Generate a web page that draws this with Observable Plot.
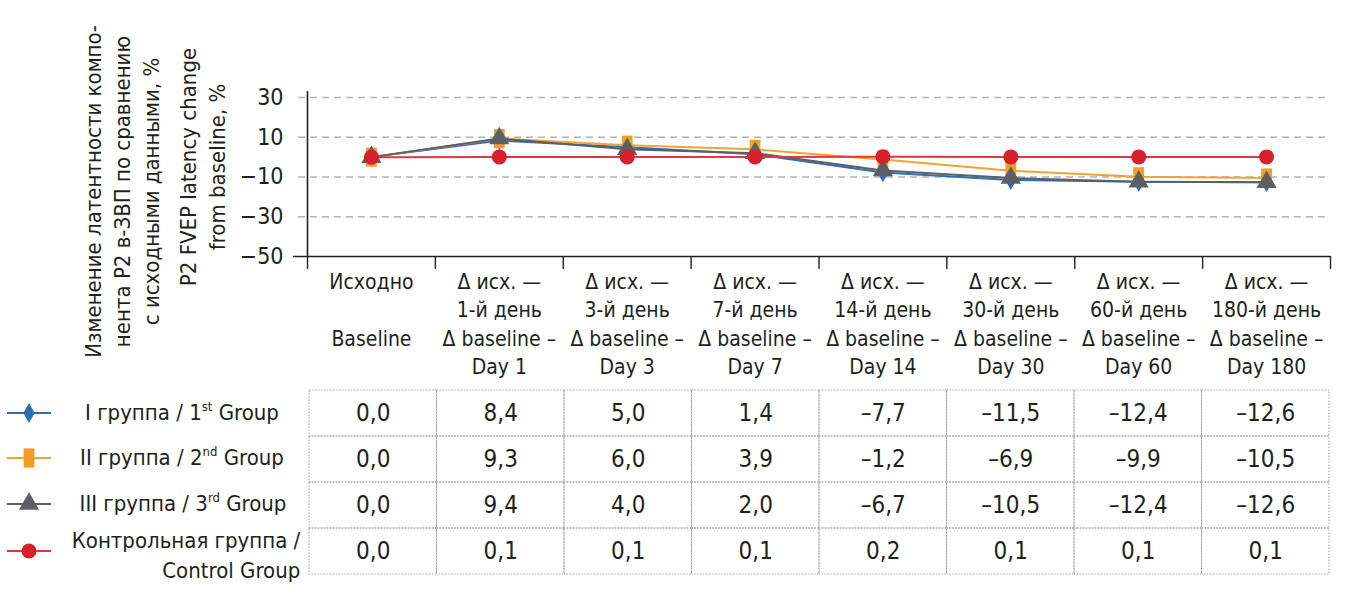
<!DOCTYPE html>
<html><head><meta charset="utf-8">
<script src="https://cdn.jsdelivr.net/npm/d3@7"></script>
<script src="https://cdn.jsdelivr.net/npm/@observablehq/plot@0.6"></script>
<style>
body{margin:0;background:#fff;}
#wrap{position:relative;width:1364px;height:600px;font-family:"Liberation Sans Narrow","DejaVu Sans Condensed","Roboto",sans-serif;color:#231f20;overflow:hidden}
#wrap svg{position:absolute;left:0}
.ytitle{position:absolute;width:420px;text-align:center;white-space:pre;font-size:22px;line-height:29px;transform:rotate(-90deg);color:#231f20}
.leg{position:absolute;font-size:22px;white-space:nowrap;color:#231f20}
.leg sup{font-size:13px;vertical-align:9px;line-height:0}
.sw{position:absolute}
</style></head><body><div id="wrap"></div>
<script>
const FONT = '"Liberation Sans Narrow","DejaVu Sans Condensed","Roboto",sans-serif';
const categories = [
  "Исходно\n\nBaseline",
  "Δ исх. —\n1-й день\nΔ baseline –\nDay 1",
  "Δ исх. —\n3-й день\nΔ baseline –\nDay 3",
  "Δ исх. —\n7-й день\nΔ baseline –\nDay 7",
  "Δ исх. —\n14-й день\nΔ baseline –\nDay 14",
  "Δ исх. —\n30-й день\nΔ baseline –\nDay 30",
  "Δ исх. —\n60-й день\nΔ baseline –\nDay 60",
  "Δ исх. —\n180-й день\nΔ baseline –\nDay 180"
];
const groupNames = ["I группа / 1st Group", "II группа / 2nd Group", "III группа / 3rd Group", "Контрольная группа / Control Group"];
const group1 = [0.0, 8.4, 5.0, 1.4, -7.7, -11.5, -12.4, -12.6];
const group2 = [0.0, 9.3, 6.0, 3.9, -1.2, -6.9, -9.9, -10.5];
const group3 = [0.0, 9.4, 4.0, 2.0, -6.7, -10.5, -12.4, -12.6];
const control = [0.0, 0.1, 0.1, 0.1, 0.2, 0.1, 0.1, 0.1];
const yTicks = [30, 10, -10, -30, -50];
const colors = ["#2f6db5", "#f29d26", "#5d5f64", "#d6212d"];
const lineColors = ["#2f6db5", "#f2a230", "#5d5f64", "#e8343d"];

const seriesValues = [group1, group2, group3, control];
const long = seriesValues.flatMap((vals, s) => vals.map((v, i) => ({s, i, v})));

const tallRect = {draw(ctx, size){ const r = Math.sqrt(size/Math.PI); const w = r*1.8, h = r*3.2; ctx.moveTo(-w/2,-h/2); ctx.lineTo(w/2,-h/2); ctx.lineTo(w/2,h/2); ctx.lineTo(-w/2,h/2); ctx.closePath(); }};
const symbols = ["diamond", tallRect, "triangle", "circle"];
const radii = [6, 6, 7.5, 7.5];

const W = 1364;
const wrap = document.getElementById("wrap");

const chart = Plot.plot({
  width: W, height: 380,
  marginLeft: 307, marginRight: 34, marginTop: 97, marginBottom: 124,
  x: {domain: [0, 8], axis: null},
  y: {domain: [-50, 30], axis: null},
  style: {fontFamily: FONT, background: "transparent", color: "#231f20", overflow: "visible"},
  marks: [
    Plot.ruleY(yTicks.filter(d => d > -50), {x1: -0.07, x2: 8, stroke: "#b2b2b2", strokeDasharray: "7,5", strokeWidth: 1.3}),
    Plot.ruleX([0], {y1: -50, y2: 33, stroke: "#231f20", strokeWidth: 1.6}),
    Plot.ruleY([-50], {x1: -0.11, x2: 8, stroke: "#231f20", strokeWidth: 1.6}),
    Plot.ruleX(d3.range(9), {y1: -50, y2: -56.5, stroke: "#231f20", strokeWidth: 1.4}),
    Plot.text(yTicks, {x: 0, y: d => d, text: d => String(d).replace("-", "\u2212"), textAnchor: "end", dx: -24, fontSize: 23, fill: "#231f20"}),
    Plot.text(categories, {x: (d, i) => i + 0.5, y: -50, text: d => d, lineAnchor: "top", dy: 12, fontSize: 21, lineHeight: 1.36, fill: "#231f20"}),
    ...seriesValues.map((vals, s) => Plot.line(long.filter(d => d.s === s), {x: d => d.i + 0.5, y: "v", stroke: lineColors[s], strokeWidth: 2})),
    ...seriesValues.map((vals, s) => Plot.dot(long.filter(d => d.s === s), {x: d => d.i + 0.5, y: "v", symbol: () => symbols[s], r: radii[s], fill: colors[s], stroke: "none"}))
  ]
});
chart.style.top = "0px";
wrap.appendChild(chart);

const fmt = v => v.toFixed(1).replace(".", ",").replace("-", "\u2013");
const cells = seriesValues.flatMap((vals, r) => vals.map((v, c) => ({r, c, v})));
const table = Plot.plot({
  width: W, height: 200,
  marginLeft: 309, marginRight: 35, marginTop: 10, marginBottom: 6,
  x: {domain: [0, 8], axis: null},
  y: {domain: [0, 4], reverse: true, axis: null},
  style: {fontFamily: FONT, background: "transparent", overflow: "visible"},
  marks: [
    Plot.rect(cells, {x1: "c", x2: d => d.c + 1, y1: "r", y2: d => d.r + 1, fill: "none", stroke: "#a0a0a0", strokeWidth: 1, strokeDasharray: "1.5,1.5"}),
    Plot.text(cells, {x: d => d.c + 0.5, y: d => d.r + 0.5, text: d => fmt(d.v), fontSize: 24, fill: "#231f20"})
  ]
});
table.style.top = "380px";
wrap.appendChild(table);

// Y-axis titles
function ytitle(text, cx, cy){
  const d = document.createElement("div");
  d.className = "ytitle";
  d.textContent = text;
  const lines = text.split("\n").length;
  const h = lines * 29;
  d.style.left = (cx - 210) + "px";
  d.style.top = (cy - h/2) + "px";
  d.style.height = h + "px";
  wrap.appendChild(d);
}
ytitle("Изменение латентности компо-\nнента Р2 в-ЗВП по сравнению\nс исходными данными, %", 122, 191);
ytitle("P2 FVEP latency change\nfrom baseline, %", 203, 167);

// Legend
const legendRows = [
  {html: "I группа / 1<sup>st</sup> Group", y: 413, cx: 182},
  {html: "II группа / 2<sup>nd</sup> Group", y: 458, cx: 182},
  {html: "III группа / 3<sup>rd</sup> Group", y: 504, cx: 183},
  {html: "Контрольная группа /<br>Control Group", y: 556, cx: 186}
];
const markerY = [413, 458, 504, 551];
legendRows.forEach((row, s) => {
  const t = document.createElement("div");
  t.className = "leg";
  t.innerHTML = row.html;
  wrap.appendChild(t);
  const lines = row.html.includes("<br>") ? 2 : 1;
  t.style.lineHeight = "30px";
  t.style.textAlign = lines === 2 ? "right" : "center";
  const w = t.getBoundingClientRect().width;
  t.style.left = (row.cx - w/2) + "px";
  t.style.top = (row.y - lines*15) + "px";
  const sw = d3.create("svg").attr("class", "sw").attr("width", 50).attr("height", 30)
    .style("left", "4px").style("top", (markerY[s] - 15) + "px");
  sw.append("line").attr("x1", 3).attr("x2", 47).attr("y1", 15).attr("y2", 15).attr("stroke", lineColors[s]).attr("stroke-width", 2);
  const sym = typeof symbols[s] === "string" ? {diamond: d3.symbolDiamond, triangle: d3.symbolTriangle, circle: d3.symbolCircle}[symbols[s]] : symbols[s];
  sw.append("path").attr("transform", "translate(25,15)").attr("fill", colors[s])
    .attr("d", d3.symbol(sym, radii[s]*radii[s]*Math.PI)());
  wrap.appendChild(sw.node());
});
</script>
</body></html>
